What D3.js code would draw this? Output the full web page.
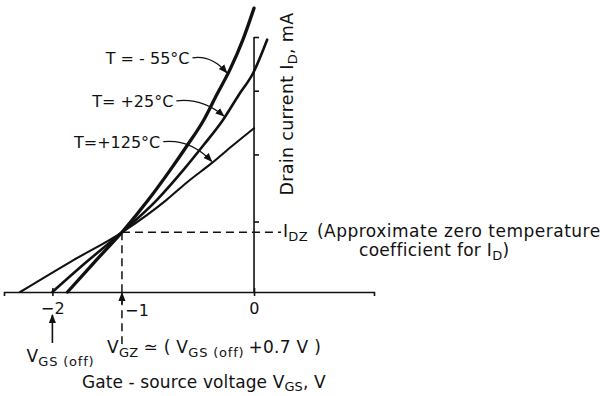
<!DOCTYPE html>
<html>
<head>
<meta charset="utf-8">
<script src="https://cdn.jsdelivr.net/npm/d3@7"></script>
<style>
  body { margin: 0; background: #fff; }
  text { font-family: "DejaVu Sans", sans-serif; fill: #111; letter-spacing: 0.3px; }
  .axis path, .axis line { stroke: #111; stroke-width: 1.6; }
  .axis text { font-size: 16px; }
  .curve { fill: none; stroke: #111; stroke-linecap: round; }
  .dash { fill: none; stroke: #111; stroke-width: 1.5; stroke-dasharray: 8 5; }
  .lead { fill: none; stroke: #111; stroke-width: 1.3; }
</style>
</head>
<body>
<div id="chart"></div>
<script>
// gate-source voltage (V) and drain current (arbitrary mA units) per temperature
var vgsM55 = [-1.85, -1.58, -1.31, -1.05, -0.83, -0.66, -0.50, -0.37, -0.24, -0.11, 0.0];
var idM55  = [0, 0.45, 0.89, 1.37, 1.82, 2.19, 2.56, 2.94, 3.31, 3.76, 4.23];
var vgsP25 = [-2.0, -1.66, -1.31, -0.965, -0.70, -0.50, -0.31, -0.15, -0.01, 0.13];
var idP25  = [0, 0.45, 0.89, 1.37, 1.82, 2.19, 2.56, 2.94, 3.26, 3.76];
var vgsP125 = [-2.32, -1.82, -1.31, -0.87, -0.66, -0.42, -0.23, 0.0];
var idP125  = [0, 0.45, 0.89, 1.37, 1.64, 1.92, 2.16, 2.44];

var tempLabels = ["T = - 55°C", "T= +25°C", "T=+125°C"];
var tempWidths = [3.3, 2.6, 2.1];
// where each label's leader arrow touches its curve (V) and label end (V, mA)
var tipV = [-0.26, -0.29, -0.41];
var labelV = [-0.64, -0.80, -0.93];
var labelI = [3.40, 2.76, 2.15];

var xTicks = [-2, 0];
var xTickLabels = ["−2", "0"];
var yTicks = [1.05, 2.05, 3.0, 3.8];

var vOff = -2.0;   // V_GS(off)
var vGZ = -1.31;   // zero temperature coefficient point
var iDZ = 0.89;

var width = 608, height = 396;

var svg = d3.select("#chart").append("svg")
    .attr("width", width)
    .attr("height", height);

var x = d3.scaleLinear().domain([-2.48, 1.19]).range([4, 374]);
var y = d3.scaleLinear().domain([0, 3.8]).range([292, 37]);

var defs = svg.append("defs");
defs.append("marker")
    .attr("id", "head")
    .attr("viewBox", "0 0 10 10")
    .attr("refX", 9).attr("refY", 5)
    .attr("markerWidth", 9).attr("markerHeight", 9)
    .attr("markerUnits", "userSpaceOnUse")
    .attr("orient", "auto")
  .append("path")
    .attr("d", "M0,1 L10,5 L0,9 Z")
    .attr("fill", "#111");

/* AXES */
var xaxis = svg.append("g")
    .attr("class", "axis")
    .attr("transform", "translate(0," + y(0) + ")")
    .call(d3.axisBottom(x).tickValues(xTicks).tickSizeOuter(0).tickSize(4).tickPadding(6)
        .tickFormat(function (d, i) { return xTickLabels[i]; }));
xaxis.selectAll(".tick line").attr("y1", -4);
xaxis.selectAll(".tick text").attr("dy", "0.75em");

var yaxis = svg.append("g")
    .attr("class", "axis")
    .attr("transform", "translate(" + x(0) + ",0)")
    .call(d3.axisLeft(y).tickValues(yTicks).tickSizeOuter(0).tickSize(5).tickFormat(""));
yaxis.select(".domain").attr("d", "M0," + y(0) + "V" + y(3.8));
yaxis.selectAll(".tick line").attr("x2", 5);

// "-1" label sits just right of the V_GZ arrow
svg.append("text")
    .attr("x", x(vGZ) + 3)
    .attr("y", y(0) + 24)
    .style("font-size", "16px")
    .text("−1");

/* CURVES */
var line = d3.line()
    .x(function (d) { return x(d[0]); })
    .y(function (d) { return y(d[1]); })
    .curve(d3.curveMonotoneX);

var series = [d3.zip(vgsM55, idM55), d3.zip(vgsP25, idP25), d3.zip(vgsP125, idP125)];

svg.selectAll(".curve")
    .data(series)
    .enter().append("path")
    .attr("class", "curve")
    .attr("stroke-width", function (d, i) { return tempWidths[i]; })
    .attr("d", line);

function idAt(s, v) {
    for (var k = 0; k < s.length - 1; k++) {
        if (v >= s[k][0] && v <= s[k + 1][0]) {
            var t = (v - s[k][0]) / (s[k + 1][0] - s[k][0]);
            return s[k][1] + t * (s[k + 1][1] - s[k][1]);
        }
    }
    return s[s.length - 1][1];
}

// temperature labels with curved leader arrows
tempLabels.forEach(function (lbl, i) {
    var lx = x(labelV[i]), ly = y(labelI[i]);
    svg.append("text")
        .attr("x", lx).attr("y", ly)
        .attr("text-anchor", "end")
        .style("font-size", "16px")
        .style("letter-spacing", "0px")
        .text(lbl);
    var sx = lx + 3, sy = ly - 6;
    var tx = x(tipV[i]) - 1, ty = y(idAt(series[i], tipV[i])) - 1;
    var cx = sx + 0.55 * (tx - sx), cy = sy - 3;
    svg.append("path")
        .attr("class", "lead")
        .attr("marker-end", "url(#head)")
        .attr("d", "M" + sx + "," + sy + " Q" + cx + "," + cy + " " + tx + "," + ty);
});

/* ZERO TC POINT */
svg.append("path")
    .attr("class", "dash")
    .attr("d", "M" + x(vGZ) + "," + y(iDZ) + " H" + (x(0) + 27));
svg.append("path")
    .attr("class", "dash")
    .attr("d", "M" + x(vGZ) + "," + y(iDZ) + " V" + (y(0) + 52));
svg.append("path")
    .attr("stroke", "#111").attr("stroke-width", 1.5)
    .attr("marker-end", "url(#head)")
    .attr("d", "M" + x(vGZ) + "," + (y(0) + 12) + " V" + (y(0) + 1));

// V_GS(off) arrow
svg.append("path")
    .attr("stroke", "#111").attr("stroke-width", 1.6)
    .attr("marker-end", "url(#head)")
    .attr("d", "M" + x(vOff) + "," + (y(0) + 51) + " V" + (y(0) + 23));

var idz = svg.append("text").attr("x", x(0) + 29).attr("y", y(iDZ) + 5).style("font-size", "17px");
idz.append("tspan").text("I");
idz.append("tspan").attr("dy", 4).style("font-size", "13px").text("DZ");
idz.append("tspan").attr("dy", -4).attr("dx", 9).style("letter-spacing", "0.5px").text("(Approximate zero temperature");

var idz2 = svg.append("text").attr("x", x(0) + 105).attr("y", y(iDZ) + 24).style("font-size", "17px");
idz2.append("tspan").text("coefficient for I");
idz2.append("tspan").attr("dy", 4).style("font-size", "13px").text("D");
idz2.append("tspan").attr("dy", -4).text(")");

var voff = svg.append("text").attr("x", x(vOff) - 26).attr("y", y(0) + 70).style("font-size", "17px");
voff.append("tspan").text("V");
voff.append("tspan").attr("dy", 4).style("font-size", "13px").style("letter-spacing", "0.8px").text("GS (off)");

var vgz = svg.append("text").attr("x", x(vGZ) - 15).attr("y", y(0) + 61).style("font-size", "17px");
vgz.append("tspan").text("V");
vgz.append("tspan").attr("dy", 4).style("font-size", "13px").text("GZ");
vgz.append("tspan").attr("dy", -4).attr("dx", 5).text("≃ ( V");
vgz.append("tspan").attr("dy", 4).style("font-size", "13px").style("letter-spacing", "0.8px").text("GS (off)");
vgz.append("tspan").attr("dy", -4).attr("dx", 4).text("+0.7 V )");

var xl = svg.append("text").attr("x", 82).attr("y", 388).style("font-size", "17px").style("letter-spacing", "0.1px");
xl.append("tspan").text("Gate - source voltage V");
xl.append("tspan").attr("dy", 3).style("font-size", "13px").text("GS");
xl.append("tspan").attr("dy", -3).text(", V");

var yl = svg.append("text")
    .attr("transform", "translate(" + (x(0) + 39) + "," + 104 + ") rotate(-90)")
    .attr("text-anchor", "middle")
    .style("font-size", "17.5px");
yl.append("tspan").text("Drain current I");
yl.append("tspan").attr("dy", 4).style("font-size", "13px").text("D");
yl.append("tspan").attr("dy", -4).text(", mA");
</script>
</body>
</html>
